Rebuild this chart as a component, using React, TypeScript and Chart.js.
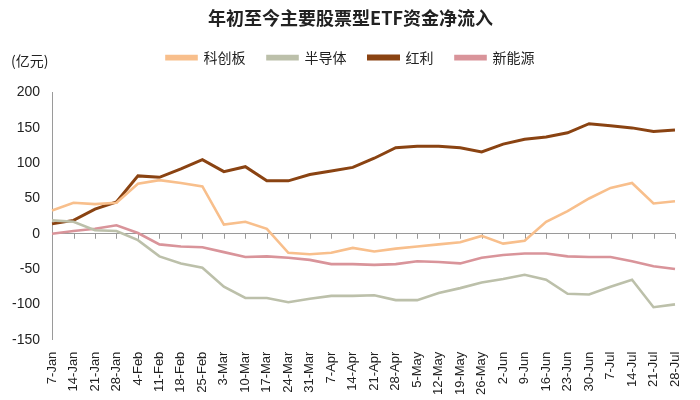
import React, { useEffect, useRef } from "react";
import { Chart, registerables } from "chart.js";

Chart.register(...registerables);

const TITLE = "年初至今主要股票型ETF资金净流入";
const UNIT = "(亿元)";

const categories = [
  "7-Jan", "14-Jan", "21-Jan", "28-Jan", "4-Feb", "11-Feb", "18-Feb", "25-Feb",
  "3-Mar", "10-Mar", "17-Mar", "24-Mar", "31-Mar", "7-Apr", "14-Apr", "21-Apr",
  "28-Apr", "5-May", "12-May", "19-May", "26-May", "2-Jun", "9-Jun", "16-Jun",
  "23-Jun", "30-Jun", "7-Jul", "14-Jul", "21-Jul", "28-Jul",
];

const kechuangban = [
  33, 44, 42, 44, 71, 76, 72, 67, 13, 17, 7, -27, -29, -27, -20, -25,
  -21, -18, -15, -12, -3, -14, -10, 17, 32, 50, 65, 72, 43, 46,
];

const bandaoti = [
  19, 17, 5, 4, -9, -32, -42, -48, -75, -91, -91, -97, -92, -88, -88, -87,
  -94, -94, -84, -77, -69, -64, -58, -65, -85, -86, -75, -65, -104, -100,
];

const hongli = [
  14, 19, 35, 45, 82, 80, 92, 105, 88, 95, 75, 75, 84, 89, 94, 107,
  122, 124, 124, 122, 116, 127, 134, 137, 143, 156, 153, 150, 145, 147,
];

const xinnengyuan = [
  0, 4, 7, 12, 1, -15, -18, -19, -26, -33, -32, -34, -37, -43, -43, -44,
  -43, -39, -40, -42, -34, -30, -28, -28, -32, -33, -33, -39, -46, -50,
];

const seriesNames = ["科创板", "半导体", "红利", "新能源"];
const seriesColors = ["#F8BF8C", "#BCC0AA", "#8A4312", "#D9949A"];

const yTicks = { min: -150, max: 200, step: 50 };

const FONT = "'Liberation Sans', Arial, sans-serif";
const CJK = "'Noto Sans CJK SC', 'Liberation Sans', sans-serif";

export default function App() {
  const canvasRef = useRef<HTMLCanvasElement | null>(null);

  useEffect(() => {
    document.body.style.margin = "0";
    const canvas = canvasRef.current;
    if (!canvas) return;

    const zeroTicks = {
      id: "zeroTicks",
      beforeDatasetsDraw(chart: any) {
        const xs = chart.scales.x;
        const ys = chart.scales.y;
        const y0 = ys.getPixelForValue(0);
        const ctx = chart.ctx;
        ctx.save();
        ctx.strokeStyle = "#9a9a9a";
        ctx.lineWidth = 1;
        ctx.beginPath();
        for (let i = 0; i < xs.ticks.length; i++) {
          const px = Math.round(xs.getPixelForTick(i)) + 0.5;
          ctx.moveTo(px, y0);
          ctx.lineTo(px, y0 + 5);
        }
        ctx.stroke();
        ctx.restore();
      },
    };

    const legendSpace = {
      id: "legendSpace",
      beforeInit(chart: any) {
        const lg = chart.legend;
        if (!lg) return;
        const origFit = lg.fit;
        lg.fit = function () {
          origFit.call(this);
          this.height += 18;
        };
      },
      afterLayout(chart: any) {
        const shift = 13;
        [chart.legend, chart.titleBlock].forEach((b: any) => {
          if (b) {
            b.left += shift;
            b.right += shift;
          }
        });
      },
    };

    const unitLabel = {
      id: "unitLabel",
      afterDraw(chart: any) {
        const lg = chart.legend;
        if (!lg) return;
        const ctx = chart.ctx;
        const hb = lg.legendHitBoxes && lg.legendHitBoxes[0];
        const cy = hb ? hb.top + hb.height / 2 : lg.top + lg.height / 2;
        ctx.save();
        ctx.fillStyle = "#222";
        ctx.font = "14px " + CJK;
        ctx.textBaseline = "middle";
        ctx.textAlign = "left";
        ctx.fillText(UNIT, 11, cy + 3);
        ctx.restore();
      },
    };

    const dataArrays = [kechuangban, bandaoti, hongli, xinnengyuan];

    const chart = new Chart(canvas, {
      type: "line",
      data: {
        labels: categories,
        datasets: dataArrays.map((d, i) => ({
          label: seriesNames[i],
          data: d,
          borderColor: seriesColors[i],
          backgroundColor: seriesColors[i],
          borderWidth: i === 2 ? 3 : 2.6,
          pointRadius: 0,
          tension: 0,
        })),
      },
      options: {
        animation: false,
        responsive: false,
        maintainAspectRatio: false,
        layout: { padding: { left: 0, right: 25, top: 4, bottom: 1 } },
        plugins: {
          title: {
            display: true,
            text: TITLE,
            color: "#222",
            font: { family: CJK, size: 18, weight: "bold" },
            padding: { top: 3, bottom: 0 },
          },
          legend: {
            display: true,
            labels: {
              color: "#222",
              font: { family: CJK, size: 14 },
              boxWidth: 30,
              boxHeight: 3,
              padding: 22,
            },
          },
          tooltip: { enabled: false },
        },
        scales: {
          x: {
            grid: { display: false },
            border: { display: false },
            offset: false,
            ticks: {
              autoSkip: false,
              maxRotation: 90,
              minRotation: 90,
              color: "#222",
              font: { family: FONT, size: 13 },
              padding: 4,
            },
          },
          y: {
            min: yTicks.min,
            max: yTicks.max,
            border: { display: true, color: "#9a9a9a", width: 1 },
            grid: {
              drawTicks: false,
              color: (ctx: any) => (ctx.tick && ctx.tick.value === 0 ? "#9a9a9a" : "rgba(0,0,0,0)"),
            },
            ticks: {
              stepSize: yTicks.step,
              color: "#222",
              font: { family: FONT, size: 14 },
              padding: 12,
            },
          },
        },
      },
      plugins: [zeroTicks, legendSpace, unitLabel],
    });

    return () => chart.destroy();
  }, []);

  return (
    <div style={{ position: "fixed", left: 0, top: 0, width: 700, height: 400, background: "#fff" }}>
      <canvas ref={canvasRef} width={700} height={400} style={{ display: "block" }} />
    </div>
  );
}
